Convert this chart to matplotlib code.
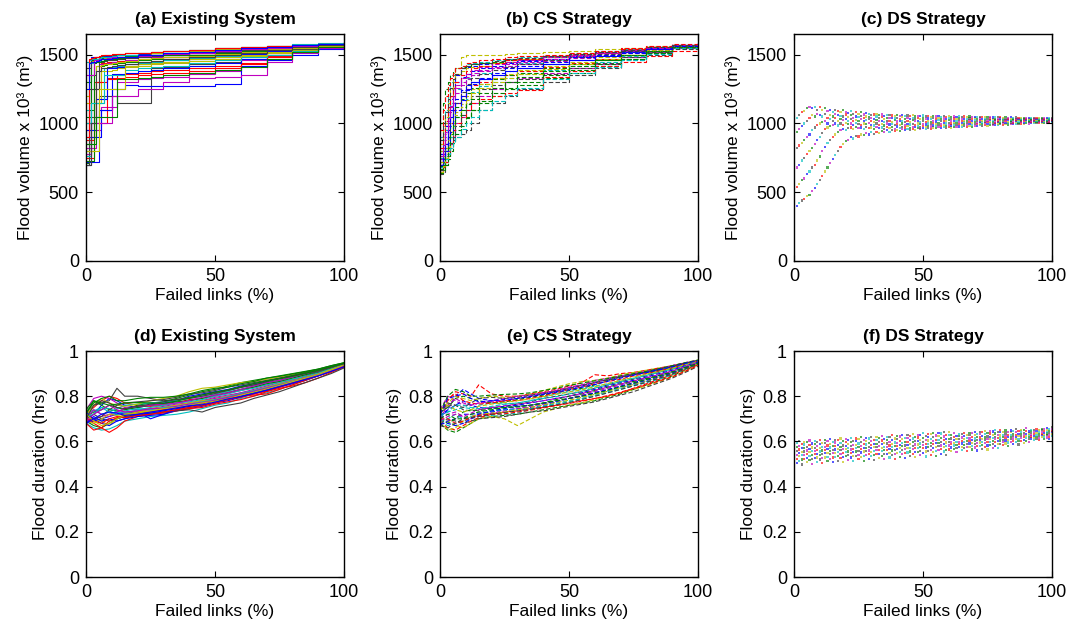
import numpy as np
import matplotlib
matplotlib.use("Agg")
import matplotlib.pyplot as plt

plt.rcParams['font.family'] = ['Liberation Sans', 'DejaVu Sans']

# ---------------- data ----------------
titles = ["(a) Existing System", "(b) CS Strategy", "(c) DS Strategy",
          "(d) Existing System", "(e) CS Strategy", "(f) DS Strategy"]
xlabel_txt = "Failed links (%)"
ylabel_vol = "Flood volume x 10³ (m³)"
ylabel_dur = "Flood duration (hrs)"

x_ticks = [0, 50, 100]
vol_ticks = [0, 500, 1000, 1500]
dur_ticks = [0, 0.2, 0.4, 0.6, 0.8, 1.0]
dur_ticklabels = ["0", "0.2", "0.4", "0.6", "0.8", "1"]

matlab_colors = [(0, 0, 1), (0, 0.5, 0), (1, 0, 0), (0, 0.75, 0.75),
                 (0.75, 0, 0.75), (0.75, 0.75, 0), (0.25, 0.25, 0.25)]

# (a) Existing system, flood volume (x1000 m3), step curves
xa = [0, 1, 2, 3, 4, 5, 6, 7, 8, 10, 12, 15, 20, 25, 30, 40, 50, 60, 70, 80, 90, 100]
vol_existing = [
    [700, 700, 1480, 1480, 1485, 1485, 1490, 1490, 1490, 1495, 1495, 1500, 1505, 1510, 1515, 1525, 1535, 1545, 1555, 1565, 1575, 1585],
    [710, 1100, 1100, 1470, 1470, 1470, 1475, 1475, 1480, 1480, 1485, 1490, 1495, 1500, 1505, 1515, 1525, 1540, 1550, 1560, 1570, 1582],
    [760, 760, 900, 900, 1300, 1300, 1440, 1440, 1445, 1450, 1455, 1460, 1470, 1475, 1480, 1495, 1510, 1525, 1540, 1555, 1570, 1580],
    [1000, 1000, 1000, 1150, 1150, 1150, 1150, 1400, 1400, 1410, 1420, 1430, 1440, 1450, 1460, 1475, 1490, 1510, 1530, 1550, 1565, 1580],
    [820, 820, 820, 820, 950, 950, 1120, 1120, 1120, 1120, 1300, 1300, 1320, 1330, 1340, 1360, 1380, 1460, 1500, 1530, 1555, 1578],
    [1200, 1450, 1455, 1460, 1465, 1470, 1470, 1475, 1480, 1480, 1485, 1490, 1500, 1510, 1515, 1525, 1540, 1550, 1560, 1570, 1578, 1586],
    [850, 850, 1050, 1050, 1050, 1200, 1200, 1200, 1200, 1200, 1150, 1150, 1150, 1400, 1410, 1430, 1450, 1480, 1510, 1540, 1560, 1580],
    [900, 900, 900, 900, 900, 900, 1100, 1100, 1100, 1250, 1250, 1280, 1270, 1270, 1270, 1275, 1290, 1420, 1460, 1500, 1540, 1575],
    [1300, 1300, 1460, 1460, 1465, 1465, 1470, 1470, 1475, 1480, 1485, 1490, 1495, 1500, 1510, 1520, 1530, 1545, 1555, 1565, 1575, 1583],
    [750, 750, 750, 1000, 1000, 1000, 1000, 1000, 1330, 1330, 1350, 1360, 1370, 1380, 1390, 1400, 1420, 1440, 1490, 1530, 1560, 1580],
    [1100, 1440, 1440, 1445, 1450, 1455, 1455, 1460, 1460, 1465, 1470, 1480, 1485, 1495, 1500, 1510, 1520, 1535, 1550, 1560, 1572, 1582],
    [950, 950, 1250, 1250, 1250, 1430, 1430, 1435, 1440, 1445, 1450, 1460, 1470, 1480, 1485, 1500, 1515, 1530, 1545, 1558, 1570, 1580],
    [800, 800, 800, 1150, 1150, 1150, 1380, 1380, 1380, 1390, 1400, 1410, 1420, 1430, 1440, 1455, 1470, 1490, 1510, 1535, 1560, 1580],
    [1400, 1400, 1470, 1475, 1480, 1485, 1490, 1495, 1500, 1500, 1505, 1510, 1515, 1520, 1525, 1535, 1545, 1555, 1565, 1572, 1580, 1588],
    [720, 720, 720, 720, 720, 1100, 1100, 1100, 1100, 1360, 1360, 1370, 1380, 1390, 1400, 1420, 1440, 1465, 1500, 1530, 1560, 1580],
    [1050, 1050, 1350, 1350, 1420, 1420, 1420, 1425, 1430, 1435, 1440, 1450, 1460, 1470, 1480, 1495, 1510, 1530, 1545, 1560, 1570, 1582],
    [880, 880, 880, 1300, 1300, 1300, 1300, 1300, 1320, 1320, 1330, 1340, 1350, 1360, 1370, 1380, 1400, 1430, 1480, 1520, 1555, 1580],
    [1450, 1460, 1465, 1470, 1470, 1475, 1480, 1480, 1485, 1490, 1495, 1500, 1510, 1520, 1525, 1535, 1545, 1555, 1565, 1575, 1582, 1590],
    [780, 780, 1000, 1000, 1000, 1000, 1000, 1000, 1000, 1200, 1200, 1200, 1250, 1250, 1300, 1330, 1340, 1350, 1450, 1510, 1550, 1578],
    [1150, 1150, 1150, 1150, 1420, 1420, 1425, 1430, 1430, 1440, 1445, 1455, 1465, 1475, 1480, 1490, 1505, 1520, 1540, 1555, 1568, 1580],
    [700, 1250, 1250, 1250, 1250, 1450, 1450, 1455, 1460, 1460, 1465, 1475, 1480, 1490, 1495, 1510, 1520, 1535, 1550, 1562, 1574, 1584],
    [950, 950, 950, 950, 1180, 1180, 1180, 1180, 1400, 1400, 1410, 1420, 1430, 1440, 1450, 1465, 1485, 1505, 1525, 1545, 1565, 1580],
    [730, 730, 730, 1440, 1445, 1450, 1455, 1460, 1465, 1470, 1475, 1480, 1490, 1495, 1500, 1515, 1525, 1540, 1552, 1562, 1572, 1584],
    [900, 1470, 1475, 1480, 1485, 1490, 1495, 1495, 1500, 1505, 1505, 1510, 1515, 1520, 1525, 1535, 1545, 1555, 1563, 1572, 1580, 1588],
    [760, 760, 1150, 1150, 1150, 1150, 1150, 1350, 1350, 1350, 1350, 1390, 1400, 1410, 1420, 1440, 1460, 1480, 1500, 1530, 1560, 1580],
    [1350, 1350, 1350, 1460, 1460, 1465, 1465, 1470, 1475, 1480, 1480, 1485, 1490, 1500, 1505, 1515, 1525, 1540, 1550, 1562, 1574, 1584],
    [800, 800, 800, 800, 800, 1250, 1250, 1250, 1250, 1250, 1250, 1420, 1430, 1440, 1450, 1465, 1480, 1500, 1520, 1545, 1565, 1580],
    [700, 700, 1000, 1000, 1380, 1380, 1400, 1400, 1410, 1420, 1425, 1435, 1445, 1455, 1465, 1480, 1495, 1515, 1535, 1555, 1568, 1582],
    [1250, 1440, 1450, 1450, 1455, 1460, 1465, 1470, 1470, 1475, 1480, 1485, 1495, 1500, 1510, 1520, 1535, 1548, 1558, 1568, 1578, 1586],
    [850, 850, 850, 850, 1050, 1050, 1050, 1050, 1050, 1050, 1320, 1320, 1330, 1340, 1350, 1370, 1390, 1410, 1470, 1520, 1555, 1580],
]

# (b) CS strategy, flood volume
xb = [0, 1, 2, 3, 4, 5, 6, 8, 10, 12, 15, 20, 25, 30, 40, 50, 60, 70, 80, 90, 100]
vol_cs = [
    [640, 700, 800, 950, 1100, 1250, 1350, 1400, 1410, 1420, 1430, 1440, 1450, 1460, 1480, 1500, 1520, 1540, 1555, 1570, 1585],
    [650, 680, 720, 800, 850, 900, 950, 1000, 1050, 1100, 1150, 1200, 1250, 1280, 1330, 1370, 1420, 1470, 1510, 1545, 1575],
    [700, 750, 850, 900, 1000, 1100, 1150, 1200, 1250, 1280, 1300, 1330, 1350, 1380, 1410, 1440, 1470, 1500, 1530, 1555, 1580],
    [900, 1000, 1100, 1250, 1300, 1350, 1400, 1420, 1430, 1440, 1450, 1460, 1470, 1480, 1490, 1510, 1525, 1540, 1555, 1570, 1585],
    [660, 700, 750, 800, 850, 900, 1000, 1050, 1100, 1150, 1200, 1250, 1300, 1330, 1370, 1400, 1430, 1480, 1520, 1550, 1578],
    [800, 900, 1000, 1100, 1200, 1300, 1400, 1480, 1500, 1500, 1500, 1500, 1505, 1510, 1520, 1530, 1540, 1550, 1560, 1572, 1586],
    [680, 720, 780, 820, 860, 880, 900, 920, 950, 1000, 1100, 1150, 1200, 1250, 1300, 1350, 1400, 1460, 1500, 1540, 1575],
    [720, 800, 900, 1000, 1050, 1100, 1150, 1200, 1250, 1300, 1320, 1350, 1380, 1400, 1430, 1460, 1490, 1520, 1540, 1560, 1580],
    [1000, 1150, 1250, 1300, 1350, 1380, 1400, 1410, 1420, 1430, 1440, 1450, 1460, 1470, 1485, 1500, 1515, 1530, 1550, 1565, 1582],
    [650, 680, 720, 780, 850, 950, 1000, 1050, 1100, 1150, 1180, 1200, 1220, 1240, 1340, 1380, 1420, 1450, 1490, 1530, 1570],
    [750, 850, 950, 1050, 1150, 1200, 1250, 1300, 1330, 1350, 1370, 1400, 1420, 1440, 1460, 1480, 1500, 1520, 1545, 1565, 1582],
    [700, 780, 880, 980, 1080, 1150, 1220, 1280, 1320, 1350, 1380, 1400, 1420, 1435, 1455, 1475, 1495, 1515, 1535, 1560, 1580],
    [850, 950, 1050, 1150, 1250, 1320, 1360, 1380, 1400, 1410, 1420, 1440, 1450, 1465, 1480, 1495, 1510, 1530, 1550, 1568, 1584],
    [630, 650, 700, 760, 820, 900, 980, 1060, 1150, 1200, 1250, 1280, 1300, 1320, 1360, 1400, 1440, 1480, 1520, 1550, 1578],
    [780, 880, 980, 1080, 1180, 1260, 1300, 1340, 1360, 1380, 1400, 1420, 1440, 1455, 1470, 1490, 1510, 1530, 1548, 1566, 1582],
    [690, 740, 820, 900, 980, 1060, 1120, 1180, 1220, 1260, 1290, 1320, 1350, 1370, 1400, 1430, 1460, 1500, 1530, 1555, 1580],
    [950, 1100, 1200, 1280, 1330, 1370, 1400, 1420, 1440, 1450, 1460, 1470, 1480, 1490, 1500, 1515, 1530, 1545, 1560, 1575, 1588],
    [670, 710, 760, 830, 900, 980, 1050, 1120, 1180, 1230, 1270, 1300, 1330, 1360, 1390, 1420, 1450, 1490, 1525, 1555, 1580],
    [740, 820, 920, 1020, 1120, 1200, 1260, 1300, 1340, 1370, 1390, 1410, 1430, 1450, 1470, 1490, 1510, 1530, 1550, 1568, 1584],
    [720, 760, 820, 880, 940, 1000, 1060, 1120, 1170, 1220, 1260, 1300, 1330, 1360, 1395, 1430, 1465, 1500, 1530, 1558, 1580],
    [660, 720, 800, 900, 1000, 1080, 1150, 1230, 1290, 1330, 1360, 1390, 1410, 1430, 1460, 1485, 1505, 1525, 1545, 1565, 1582],
    [700, 760, 850, 950, 1050, 1120, 1180, 1240, 1280, 1300, 1330, 1370, 1400, 1420, 1450, 1480, 1500, 1520, 1545, 1562, 1580],
    [640, 660, 700, 740, 800, 860, 920, 980, 1040, 1100, 1160, 1220, 1260, 1300, 1350, 1390, 1430, 1470, 1510, 1548, 1578],
    [820, 920, 1020, 1120, 1200, 1260, 1300, 1350, 1380, 1400, 1420, 1440, 1460, 1470, 1490, 1505, 1520, 1538, 1555, 1570, 1585],
    [680, 700, 740, 780, 820, 860, 900, 960, 1000, 1050, 1100, 1160, 1210, 1260, 1320, 1370, 1410, 1460, 1505, 1545, 1575],
    [760, 840, 940, 1040, 1130, 1200, 1280, 1330, 1360, 1390, 1410, 1430, 1450, 1460, 1480, 1500, 1515, 1532, 1550, 1568, 1584],
    [650, 690, 750, 830, 920, 1000, 1080, 1140, 1200, 1250, 1290, 1330, 1360, 1390, 1420, 1450, 1480, 1510, 1535, 1560, 1580],
    [880, 980, 1080, 1180, 1260, 1320, 1360, 1400, 1420, 1430, 1440, 1455, 1465, 1475, 1490, 1505, 1520, 1535, 1552, 1568, 1585],
    [700, 740, 800, 860, 940, 1020, 1100, 1170, 1240, 1290, 1320, 1350, 1380, 1400, 1430, 1460, 1490, 1515, 1540, 1562, 1580],
    [670, 700, 760, 840, 920, 990, 1050, 1100, 1140, 1180, 1220, 1260, 1300, 1340, 1380, 1420, 1460, 1500, 1530, 1558, 1580],
]

# (c) DS strategy, flood volume scatter: samples at each failed-links percentage 1..100
xc = list(range(1, 101))
vol_ds = [
    [400, 540, 680, 820, 940, 1040], [420, 560, 700, 840, 960, 1060], [440, 590, 730, 860, 980, 1080],
    [450, 600, 750, 880, 1000, 1090], [470, 630, 780, 900, 1020, 1110], [480, 650, 800, 920, 1040, 1120],
    [510, 680, 820, 950, 1060, 1110], [530, 700, 850, 970, 1050, 1120], [560, 730, 880, 990, 1070, 1100],
    [590, 760, 900, 1000, 1060, 1120], [620, 800, 930, 1010, 1050, 1100], [650, 830, 960, 1020, 1070, 1110],
    [680, 860, 970, 1000, 1040, 1090], [710, 880, 980, 1030, 1060, 1100], [740, 900, 990, 1020, 1050, 1080],
    [770, 920, 1000, 1040, 1070, 1100], [800, 940, 985, 1020, 1060, 1090], [830, 950, 1000, 1030, 1055, 1080],
    [850, 960, 990, 1025, 1050, 1095], [870, 955, 1005, 1035, 1065, 1085], [880, 965, 995, 1020, 1045, 1075],
    [900, 970, 1000, 1030, 1060, 1090], [890, 960, 990, 1015, 1040, 1070], [910, 975, 1005, 1025, 1050, 1080],
    [905, 965, 995, 1020, 1045, 1070], [920, 970, 990, 1030, 1055, 1085], [915, 960, 1000, 1020, 1040, 1065],
    [930, 975, 995, 1025, 1050, 1075], [920, 965, 1005, 1030, 1045, 1070], [935, 970, 990, 1015, 1040, 1060],
    [925, 960, 985, 1010, 1035, 1065], [940, 975, 1000, 1025, 1050, 1070], [930, 965, 990, 1020, 1040, 1060],
    [945, 970, 995, 1015, 1045, 1065], [935, 960, 985, 1010, 1035, 1055], [950, 975, 1000, 1020, 1040, 1060],
    [940, 968, 992, 1018, 1038, 1062], [952, 972, 996, 1012, 1042, 1058], [945, 962, 988, 1022, 1036, 1055],
    [955, 978, 998, 1014, 1040, 1062], [948, 965, 990, 1016, 1034, 1056], [958, 975, 1000, 1020, 1044, 1060],
    [950, 970, 986, 1012, 1030, 1052], [960, 980, 995, 1018, 1040, 1058], [952, 968, 992, 1010, 1034, 1054],
    [962, 976, 998, 1022, 1038, 1060], [955, 972, 990, 1015, 1032, 1050], [965, 982, 1000, 1018, 1040, 1056],
    [958, 970, 994, 1012, 1030, 1052], [966, 980, 998, 1020, 1036, 1058], [960, 975, 992, 1010, 1030, 1050],
    [968, 984, 1000, 1018, 1036, 1055], [962, 978, 995, 1012, 1032, 1048], [970, 985, 1002, 1020, 1038, 1056],
    [965, 980, 996, 1014, 1030, 1050], [972, 986, 1004, 1022, 1040, 1054], [966, 982, 998, 1015, 1032, 1048],
    [974, 988, 1005, 1020, 1036, 1052], [968, 983, 1000, 1016, 1030, 1046], [975, 990, 1006, 1022, 1038, 1054],
    [970, 985, 1000, 1015, 1032, 1048], [976, 992, 1006, 1020, 1036, 1050], [972, 986, 1002, 1016, 1030, 1046],
    [978, 994, 1008, 1022, 1038, 1052], [974, 988, 1003, 1018, 1032, 1047], [980, 995, 1008, 1020, 1035, 1050],
    [975, 990, 1004, 1017, 1030, 1045], [982, 996, 1010, 1022, 1036, 1050], [977, 991, 1005, 1018, 1032, 1046],
    [984, 998, 1010, 1024, 1038, 1048], [980, 993, 1006, 1018, 1030, 1044], [986, 1000, 1012, 1024, 1036, 1048],
    [982, 995, 1007, 1019, 1031, 1045], [988, 1001, 1012, 1023, 1035, 1047], [984, 996, 1008, 1020, 1032, 1044],
    [990, 1002, 1013, 1024, 1036, 1048], [986, 998, 1009, 1020, 1031, 1043], [992, 1004, 1014, 1025, 1035, 1046],
    [988, 1000, 1010, 1021, 1032, 1044], [994, 1005, 1015, 1025, 1036, 1046], [990, 1001, 1011, 1022, 1032, 1042],
    [995, 1006, 1016, 1026, 1035, 1045], [992, 1003, 1012, 1022, 1031, 1042], [997, 1007, 1016, 1025, 1034, 1044],
    [994, 1004, 1013, 1022, 1032, 1041], [998, 1008, 1017, 1026, 1035, 1043], [996, 1005, 1014, 1023, 1031, 1040],
    [1000, 1009, 1018, 1026, 1034, 1042], [997, 1006, 1015, 1024, 1032, 1040], [1001, 1010, 1018, 1026, 1033, 1041],
    [999, 1008, 1016, 1024, 1031, 1039], [1003, 1011, 1019, 1026, 1033, 1040], [1001, 1009, 1017, 1024, 1031, 1038],
    [1004, 1012, 1019, 1026, 1032, 1039], [1002, 1010, 1017, 1024, 1030, 1037], [1005, 1013, 1020, 1026, 1032, 1038],
    [1004, 1011, 1018, 1025, 1031, 1037], [1006, 1014, 1020, 1027, 1032, 1038], [1005, 1012, 1019, 1025, 1031, 1036],
    [1008, 1015, 1021, 1027, 1032, 1038],
]

# (d) Existing system, flood duration (x 0.001 hrs)
xd = [0, 3, 6, 9, 12, 15, 20, 25, 30, 35, 40, 45, 50, 55, 60, 65, 70, 75, 80, 85, 90, 95, 100]
dur_existing = [
    [700, 720, 760, 790, 780, 760, 750, 760, 770, 780, 800, 810, 820, 830, 845, 855, 865, 880, 890, 905, 915, 930, 945],
    [690, 670, 660, 680, 700, 710, 720, 725, 730, 740, 750, 760, 770, 790, 800, 815, 830, 845, 860, 875, 895, 915, 935],
    [720, 750, 780, 800, 790, 770, 760, 755, 760, 770, 785, 790, 800, 815, 825, 840, 850, 865, 875, 890, 905, 920, 940],
    [680, 660, 650, 655, 670, 690, 700, 710, 715, 720, 730, 745, 760, 770, 790, 800, 815, 830, 850, 870, 890, 910, 930],
    [740, 790, 800, 790, 770, 750, 740, 745, 755, 765, 770, 780, 795, 805, 815, 830, 845, 860, 870, 885, 900, 915, 935],
    [700, 700, 690, 670, 700, 720, 730, 735, 740, 745, 760, 775, 790, 800, 810, 825, 840, 850, 865, 880, 895, 915, 938],
    [730, 760, 770, 780, 835, 800, 800, 790, 780, 785, 795, 805, 815, 825, 840, 850, 860, 870, 885, 895, 905, 925, 942],
    [680, 690, 700, 710, 720, 725, 730, 700, 720, 735, 745, 755, 770, 780, 795, 810, 825, 840, 855, 870, 890, 910, 932],
    [710, 730, 740, 760, 750, 740, 760, 770, 775, 790, 805, 820, 830, 845, 860, 870, 880, 890, 900, 910, 920, 935, 948],
    [700, 680, 660, 640, 660, 690, 710, 720, 725, 735, 745, 750, 765, 775, 785, 800, 820, 835, 845, 860, 880, 905, 928],
    [720, 740, 720, 730, 745, 760, 765, 770, 775, 780, 790, 800, 810, 820, 830, 845, 855, 870, 880, 895, 910, 925, 940],
    [690, 700, 710, 720, 730, 730, 735, 740, 750, 760, 770, 780, 790, 800, 815, 825, 840, 855, 870, 885, 900, 918, 936],
    [710, 760, 790, 770, 760, 755, 765, 780, 790, 800, 820, 835, 840, 850, 860, 865, 875, 885, 895, 905, 915, 930, 945],
    [700, 720, 700, 690, 700, 710, 715, 720, 730, 735, 740, 730, 750, 760, 770, 790, 805, 820, 840, 860, 880, 900, 925],
    [730, 700, 680, 670, 690, 700, 710, 715, 720, 740, 760, 770, 780, 790, 810, 820, 835, 850, 862, 878, 893, 912, 935],
    [720, 780, 760, 740, 735, 740, 750, 760, 765, 775, 780, 790, 805, 815, 830, 840, 855, 865, 880, 895, 910, 925, 942],
    [680, 650, 660, 690, 705, 715, 725, 730, 740, 750, 755, 765, 780, 795, 800, 805, 810, 830, 850, 870, 890, 910, 932],
    [710, 735, 750, 745, 730, 725, 740, 750, 760, 770, 775, 785, 800, 810, 825, 835, 850, 860, 875, 888, 902, 920, 940],
    [700, 740, 720, 710, 730, 745, 755, 760, 765, 770, 780, 795, 805, 815, 830, 845, 860, 870, 885, 900, 912, 928, 944],
    [690, 680, 700, 720, 715, 720, 730, 745, 750, 760, 770, 780, 785, 800, 810, 825, 840, 855, 868, 882, 898, 918, 938],
    [720, 700, 710, 740, 760, 770, 775, 780, 785, 795, 810, 815, 825, 840, 850, 860, 870, 880, 892, 905, 918, 932, 946],
    [680, 710, 690, 700, 690, 700, 720, 725, 735, 745, 755, 770, 780, 785, 800, 815, 830, 845, 860, 875, 892, 912, 934],
    [730, 770, 790, 800, 780, 780, 790, 795, 795, 800, 810, 825, 835, 840, 855, 865, 880, 888, 898, 908, 920, 935, 948],
    [700, 690, 680, 700, 710, 705, 715, 720, 730, 740, 750, 758, 770, 785, 795, 810, 822, 840, 858, 875, 893, 913, 933],
    [710, 720, 750, 730, 720, 735, 745, 740, 750, 755, 765, 775, 785, 798, 812, 825, 838, 852, 866, 880, 895, 915, 938],
    [690, 720, 740, 760, 740, 730, 735, 745, 745, 755, 765, 772, 782, 795, 808, 822, 836, 850, 864, 880, 896, 914, 936],
    [720, 690, 670, 680, 700, 715, 725, 735, 745, 750, 760, 770, 778, 790, 805, 818, 832, 848, 864, 880, 896, 916, 938],
    [700, 760, 780, 770, 750, 745, 755, 765, 775, 785, 790, 800, 812, 825, 838, 850, 864, 876, 888, 900, 912, 928, 944],
    [680, 700, 720, 730, 725, 715, 720, 730, 738, 748, 758, 762, 774, 788, 798, 812, 826, 842, 858, 874, 890, 910, 930],
    [740, 780, 770, 760, 765, 770, 772, 770, 768, 778, 792, 806, 818, 828, 842, 856, 868, 878, 890, 902, 915, 930, 946],
]

# (e) CS strategy, flood duration (x 0.001 hrs)
xe = [0, 3, 6, 9, 12, 15, 20, 25, 30, 35, 40, 45, 50, 55, 60, 65, 70, 75, 80, 85, 90, 95, 100]
dur_cs = [
    [700, 740, 800, 830, 810, 790, 780, 780, 790, 800, 810, 820, 835, 845, 860, 875, 885, 895, 905, 915, 930, 945, 958],
    [680, 650, 640, 660, 680, 700, 710, 715, 720, 730, 740, 750, 760, 770, 780, 795, 810, 830, 850, 870, 890, 915, 940],
    [720, 780, 820, 810, 800, 850, 810, 800, 800, 810, 820, 830, 845, 860, 895, 890, 900, 905, 915, 925, 935, 945, 955],
    [690, 670, 680, 690, 700, 710, 715, 720, 725, 740, 755, 770, 780, 790, 800, 815, 830, 845, 860, 875, 895, 920, 942],
    [740, 800, 780, 760, 760, 770, 775, 780, 790, 800, 815, 825, 840, 850, 870, 880, 890, 900, 910, 920, 935, 948, 958],
    [700, 690, 670, 660, 680, 700, 710, 700, 670, 700, 730, 745, 760, 770, 785, 800, 815, 830, 845, 865, 885, 910, 935],
    [710, 760, 760, 740, 735, 740, 750, 755, 765, 775, 790, 800, 810, 820, 835, 850, 865, 875, 890, 905, 920, 938, 952],
    [670, 690, 700, 720, 720, 725, 730, 740, 745, 750, 760, 775, 790, 800, 815, 830, 845, 860, 875, 890, 905, 925, 945],
    [730, 750, 790, 800, 790, 780, 770, 775, 785, 795, 805, 815, 825, 835, 850, 870, 885, 895, 905, 915, 925, 940, 955],
    [690, 660, 650, 670, 690, 705, 720, 730, 735, 745, 750, 760, 770, 780, 790, 800, 815, 835, 855, 875, 895, 918, 940],
    [720, 730, 740, 750, 745, 760, 770, 765, 770, 780, 795, 810, 820, 830, 845, 855, 870, 880, 895, 910, 925, 940, 952],
    [700, 720, 730, 710, 700, 715, 725, 735, 745, 755, 765, 780, 790, 805, 820, 835, 850, 865, 880, 895, 910, 930, 948],
    [740, 770, 800, 790, 780, 790, 800, 795, 800, 810, 825, 840, 855, 865, 870, 880, 895, 905, 915, 925, 935, 948, 960],
    [680, 700, 690, 680, 690, 700, 705, 710, 720, 730, 735, 745, 755, 765, 775, 790, 805, 820, 840, 860, 880, 905, 932],
    [710, 740, 760, 780, 760, 750, 745, 755, 760, 770, 780, 790, 800, 815, 830, 845, 860, 870, 885, 900, 915, 935, 950],
    [700, 680, 700, 730, 740, 735, 745, 750, 755, 760, 770, 785, 800, 810, 825, 840, 855, 865, 878, 892, 908, 928, 946],
    [720, 790, 810, 780, 770, 765, 770, 780, 780, 790, 800, 815, 830, 840, 855, 865, 875, 890, 900, 912, 925, 942, 956],
    [690, 700, 720, 700, 710, 720, 735, 740, 740, 745, 755, 765, 775, 790, 805, 820, 835, 850, 865, 880, 898, 920, 944],
    [700, 760, 790, 770, 760, 770, 780, 790, 800, 805, 815, 825, 838, 850, 862, 875, 888, 898, 910, 922, 935, 948, 958],
    [690, 650, 660, 690, 710, 720, 725, 730, 740, 750, 762, 772, 782, 795, 808, 822, 838, 852, 868, 884, 900, 922, 944],
    [720, 770, 760, 750, 770, 790, 795, 790, 795, 805, 812, 822, 835, 848, 860, 872, 884, 896, 908, 920, 932, 946, 958],
    [680, 680, 670, 680, 700, 720, 735, 745, 755, 760, 768, 778, 790, 802, 815, 828, 842, 856, 870, 886, 902, 924, 946],
    [730, 800, 830, 820, 800, 800, 805, 808, 810, 815, 825, 835, 848, 858, 868, 878, 890, 900, 910, 922, 935, 948, 960],
    [700, 700, 680, 690, 705, 715, 720, 722, 730, 738, 748, 758, 768, 778, 790, 803, 818, 834, 850, 868, 886, 910, 936],
    [710, 730, 760, 760, 750, 745, 755, 765, 770, 780, 790, 798, 810, 822, 836, 850, 864, 878, 892, 906, 920, 938, 954],
    [690, 710, 720, 710, 725, 740, 750, 758, 765, 772, 780, 790, 800, 812, 826, 840, 854, 868, 882, 896, 912, 932, 950],
    [740, 760, 740, 730, 740, 755, 765, 772, 780, 788, 798, 808, 818, 828, 842, 856, 870, 884, 898, 910, 924, 940, 955],
    [670, 660, 680, 700, 705, 710, 720, 728, 735, 742, 752, 762, 772, 785, 800, 815, 830, 846, 862, 880, 898, 920, 942],
    [720, 790, 800, 810, 790, 775, 780, 785, 790, 798, 808, 818, 828, 840, 852, 866, 880, 893, 905, 918, 930, 945, 957],
    [700, 720, 700, 700, 720, 730, 740, 750, 752, 760, 770, 780, 790, 800, 812, 826, 842, 858, 874, 890, 906, 926, 946],
]

# (f) DS strategy, flood duration scatter (x 0.001 hrs): samples at 1..100 %
xf = list(range(1, 101))
dur_ds = [
    [504, 524, 541, 557, 574, 594], [514, 534, 549, 564, 581, 601], [498, 520, 538, 554, 570, 588], [523, 541, 555, 569, 586, 599],
    [507, 527, 544, 560, 577, 597], [517, 537, 552, 567, 584, 604], [501, 523, 541, 557, 573, 591], [526, 544, 558, 572, 589, 602],
    [509, 529, 546, 562, 579, 599], [520, 540, 555, 570, 587, 607], [504, 526, 544, 560, 576, 594], [529, 547, 561, 575, 592, 605],
    [512, 532, 549, 565, 582, 602], [523, 543, 558, 573, 590, 610], [507, 529, 547, 563, 579, 597], [532, 550, 564, 578, 595, 608],
    [515, 535, 552, 568, 585, 605], [526, 546, 561, 576, 593, 613], [510, 532, 550, 566, 582, 600], [534, 552, 566, 580, 597, 610],
    [518, 538, 555, 571, 588, 608], [529, 549, 564, 579, 596, 616], [512, 534, 552, 568, 584, 602], [537, 555, 569, 583, 600, 613],
    [521, 541, 558, 574, 591, 611], [531, 551, 566, 581, 598, 618], [515, 537, 555, 571, 587, 605], [540, 558, 572, 586, 603, 616],
    [523, 543, 560, 576, 593, 613], [534, 554, 569, 584, 601, 621], [518, 540, 558, 574, 590, 608], [543, 561, 575, 589, 606, 619],
    [526, 546, 563, 579, 596, 616], [537, 557, 572, 587, 604, 624], [521, 543, 561, 577, 593, 611], [545, 563, 577, 591, 608, 621],
    [529, 549, 566, 582, 599, 619], [540, 560, 575, 590, 607, 627], [523, 545, 563, 579, 595, 613], [548, 566, 580, 594, 611, 624],
    [532, 552, 569, 585, 602, 622], [543, 563, 578, 593, 610, 630], [526, 548, 566, 582, 598, 616], [551, 569, 583, 597, 614, 627],
    [535, 555, 572, 588, 605, 625], [546, 566, 581, 596, 613, 633], [530, 552, 570, 586, 602, 620], [554, 572, 586, 600, 617, 630],
    [538, 558, 575, 591, 608, 628], [549, 569, 584, 599, 616, 636], [533, 555, 573, 589, 605, 623], [558, 576, 590, 604, 621, 634],
    [541, 561, 578, 594, 611, 631], [552, 572, 587, 602, 619, 639], [536, 558, 576, 592, 608, 626], [561, 579, 593, 607, 624, 637],
    [545, 565, 582, 598, 615, 635], [555, 575, 590, 605, 622, 642], [539, 561, 579, 595, 611, 629], [564, 582, 596, 610, 627, 640],
    [557, 573, 587, 599, 613, 629], [566, 582, 594, 606, 620, 636], [553, 571, 585, 598, 611, 625], [574, 588, 599, 610, 624, 634],
    [561, 577, 591, 603, 617, 633], [569, 585, 597, 609, 623, 639], [556, 574, 588, 601, 614, 628], [577, 591, 602, 613, 627, 637],
    [564, 580, 594, 606, 620, 636], [573, 589, 601, 613, 627, 643], [560, 578, 592, 605, 618, 632], [581, 595, 606, 617, 631, 641],
    [568, 584, 598, 610, 624, 640], [577, 593, 605, 617, 631, 647], [564, 582, 596, 609, 622, 636], [585, 599, 610, 621, 635, 645],
    [572, 588, 602, 614, 628, 644], [581, 597, 609, 621, 635, 651], [569, 587, 601, 614, 627, 641], [590, 604, 615, 626, 640, 650],
    [584, 597, 608, 618, 629, 642], [591, 604, 614, 624, 635, 648], [581, 595, 607, 618, 628, 640], [599, 611, 620, 629, 640, 648],
    [589, 602, 613, 623, 634, 647], [596, 609, 619, 629, 640, 653], [586, 600, 612, 623, 633, 645], [603, 615, 624, 633, 644, 652],
    [594, 607, 618, 628, 639, 652], [601, 614, 624, 634, 645, 658], [599, 610, 619, 627, 635, 644], [613, 622, 629, 636, 645, 651],
    [606, 616, 624, 632, 640, 650], [611, 621, 629, 637, 645, 655], [605, 616, 625, 633, 641, 650], [618, 627, 634, 641, 650, 656],
    [612, 622, 630, 638, 646, 656], [617, 627, 635, 643, 651, 661], [610, 621, 630, 638, 646, 655], [624, 633, 640, 647, 656, 662],
]

# ---------------- figure ----------------
W, H = 1073, 627
fig = plt.figure(figsize=(W / 100, H / 100), dpi=100)

col_left = [86, 440, 794]
ax_w = 258
top_row = (34, 261)
bot_row = (351, 577)

FS = 12.5
LW = 0.8


def make_ax(left, rowspan):
    t, b = rowspan
    return fig.add_axes([left / W, (H - b) / H, ax_w / W, (b - t) / H])


def style(ax, title, ylabel, yticks, ylim, yticklabels=None):
    ax.set_xlim(0, 100)
    ax.set_ylim(*ylim)
    ax.set_xticks(x_ticks)
    ax.set_yticks(yticks)
    if yticklabels is not None:
        ax.set_yticklabels(yticklabels)
    ax.tick_params(direction='in', length=4, width=0.8, top=True, right=True,
                   labelsize=13, pad=5)
    for s in ax.spines.values():
        s.set_linewidth(1.0)
    ax.set_title(title, fontsize=FS, fontweight='bold', pad=7)
    ax.set_xlabel(xlabel_txt, fontsize=FS, labelpad=2)
    ax.set_ylabel(ylabel, fontsize=FS, labelpad=4)


def scatter_columns(ax, xs, cols, scale=1.0):
    px, py, pc = [], [], []
    for i, (x, col) in enumerate(zip(xs, cols)):
        for j, v in enumerate(col):
            px.append(x)
            py.append(v * scale)
            pc.append(matlab_colors[(i * 3 + j * 2) % 7])
    ax.scatter(px, py, s=2.4, marker='s', c=pc, linewidths=0, alpha=0.65)


axes = [make_ax(col_left[i], top_row) for i in range(3)] + \
       [make_ax(col_left[i], bot_row) for i in range(3)]

# (a)
ax = axes[0]
for k, ys in enumerate(vol_existing):
    ax.plot(xa, ys, drawstyle='steps-post', color=matlab_colors[k % 7], lw=LW)
style(ax, titles[0], ylabel_vol, vol_ticks, (0, 1650))

# (b)
ax = axes[1]
for k, ys in enumerate(vol_cs):
    ax.plot(xb, ys, drawstyle='steps-post', color=matlab_colors[k % 7], lw=LW,
            linestyle=(0, (4, 2)))
style(ax, titles[1], ylabel_vol, vol_ticks, (0, 1650))

# (c)
ax = axes[2]
scatter_columns(ax, xc, vol_ds)
style(ax, titles[2], ylabel_vol, vol_ticks, (0, 1650))

# (d)
ax = axes[3]
for k, ys in enumerate(dur_existing):
    ax.plot(xd, np.array(ys) / 1000.0, color=matlab_colors[k % 7], lw=LW)
style(ax, titles[3], ylabel_dur, dur_ticks, (0, 1), dur_ticklabels)

# (e)
ax = axes[4]
for k, ys in enumerate(dur_cs):
    ax.plot(xe, np.array(ys) / 1000.0, color=matlab_colors[k % 7], lw=LW,
            linestyle=(0, (4, 2)))
style(ax, titles[4], ylabel_dur, dur_ticks, (0, 1), dur_ticklabels)

# (f)
ax = axes[5]
scatter_columns(ax, xf, dur_ds, scale=0.001)
style(ax, titles[5], ylabel_dur, dur_ticks, (0, 1), dur_ticklabels)

fig.savefig("out.png", dpi=100)
